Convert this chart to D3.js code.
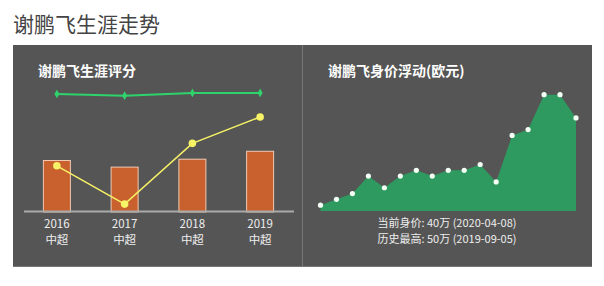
<!DOCTYPE html>
<html>
<head>
<meta charset="utf-8">
<script src="https://cdn.jsdelivr.net/npm/d3@7"></script>
<style>
  body { margin: 0; background: #fff; }
  svg { font-family: "Noto Sans CJK SC", "Noto Sans", sans-serif; }
</style>
</head>
<body>
<div id="chart"></div>
<script>
// career ratings per season
var seasons = ["2016", "2017", "2018", "2019"];
var league = ["中超", "中超", "中超", "中超"];
var barValues = [39, 34, 40, 46];
var greenValues = [89.4, 88.1, 90.2, 90.2];
var yellowValues = [35, 6, 52, 72];

// market value (万 euro)
var marketValues = [2.5, 5, 7.5, 15, 10, 15, 17.5, 15, 17.5, 17.5, 20, 12.5, 32.5, 35, 50, 50, 40];
var infoLines = ["当前身价: 40万 (2020-04-08)", "历史最高: 50万 (2019-09-05)"];

var W = 604, H = 286;
var svg = d3.select("#chart").append("svg")
  .attr("width", W)
  .attr("height", H);

svg.append("text")
  .attr("x", 13).attr("y", 32)
  .attr("font-size", 21)
  .attr("fill", "#444")
  .text("谢鹏飞生涯走势");

// panel background
svg.append("rect")
  .attr("x", 13).attr("y", 45)
  .attr("width", 579).attr("height", 222)
  .attr("fill", "#555555");
svg.append("line")
  .attr("x1", 13).attr("x2", 592)
  .attr("y1", 266.5).attr("y2", 266.5)
  .attr("stroke", "#777").attr("stroke-width", 1);
svg.append("line")
  .attr("x1", 302.5).attr("x2", 302.5)
  .attr("y1", 45).attr("y2", 267)
  .attr("stroke", "#777").attr("stroke-width", 1);

// ---- left chart
svg.append("text")
  .attr("x", 38).attr("y", 76)
  .attr("font-size", 14).attr("font-weight", "bold")
  .attr("fill", "#fff")
  .text("谢鹏飞生涯评分");

var x = d3.scaleBand().domain(seasons).range([23, 294]);
var y = d3.scaleLinear().domain([0, 100]).range([212, 80]);

svg.selectAll(".bar")
  .data(barValues)
  .enter().append("rect")
    .attr("class", "bar")
    .attr("x", function(d, i) { return x(seasons[i]) + x.bandwidth() / 2 - 13.5; })
    .attr("y", function(d) { return y(d); })
    .attr("width", 27)
    .attr("height", function(d) { return y(0) - y(d); })
    .attr("fill", "#c8612d")
    .attr("stroke", "#f2c9b2")
    .attr("stroke-width", 1);

var cx = function(d, i) { return x(seasons[i]) + x.bandwidth() / 2; };

svg.append("line")
  .attr("x1", 24).attr("x2", 294)
  .attr("y1", 211.5).attr("y2", 211.5)
  .attr("stroke", "#aaaaaa").attr("stroke-width", 2);

var line = d3.line().x(cx).y(function(d) { return y(d); });

svg.append("path")
  .attr("d", line(greenValues))
  .attr("fill", "none")
  .attr("stroke", "#2fd36b")
  .attr("stroke-width", 2);
svg.selectAll(".gdot")
  .data(greenValues)
  .enter().append("path")
    .attr("class", "gdot")
    .attr("transform", function(d, i) { return "translate(" + cx(d, i) + "," + y(d) + ")"; })
    .attr("d", d3.symbol().type(d3.symbolDiamond).size(22))
    .attr("fill", "#2fd36b");

svg.append("path")
  .attr("d", line(yellowValues))
  .attr("fill", "none")
  .attr("stroke", "#f7f266")
  .attr("stroke-width", 1.5);
svg.selectAll(".ydot")
  .data(yellowValues)
  .enter().append("circle")
    .attr("class", "ydot")
    .attr("cx", cx)
    .attr("cy", function(d) { return y(d); })
    .attr("r", 3.8)
    .attr("fill", "#f7f266");

var labels = svg.selectAll(".xlab")
  .data(seasons)
  .enter().append("text")
    .attr("class", "xlab")
    .attr("text-anchor", "middle")
    .attr("font-size", 11.5)
    .attr("fill", "#eeeeee");
labels.append("tspan")
  .attr("x", function(d) { return x(d) + x.bandwidth() / 2; })
  .attr("y", 228)
  .text(function(d) { return d; });
labels.append("tspan")
  .attr("x", function(d) { return x(d) + x.bandwidth() / 2; })
  .attr("y", 244)
  .text(function(d, i) { return league[i]; });

// ---- right chart
svg.append("text")
  .attr("x", 328).attr("y", 76)
  .attr("font-size", 14).attr("font-weight", "bold")
  .attr("fill", "#fff")
  .text("谢鹏飞身价浮动(欧元)");

var x2 = d3.scaleLinear().domain([0, marketValues.length - 1]).range([320.5, 576]);
var y2 = d3.scaleLinear().domain([0, 50]).range([211, 94.7]);

svg.append("path")
  .attr("d", d3.area()
    .x(function(d, i) { return x2(i); })
    .y0(y2(0))
    .y1(function(d) { return y2(d); })(marketValues))
  .attr("fill", "#2e9a5f");

svg.selectAll(".mdot")
  .data(marketValues)
  .enter().append("circle")
    .attr("class", "mdot")
    .attr("cx", function(d, i) { return x2(i); })
    .attr("cy", function(d) { return y2(d); })
    .attr("r", 2.6)
    .attr("fill", "#f4fff6");

svg.selectAll(".info")
  .data(infoLines)
  .enter().append("text")
    .attr("class", "info")
    .attr("x", 447)
    .attr("y", function(d, i) { return 227 + i * 16; })
    .attr("text-anchor", "middle")
    .attr("font-size", 11)
    .attr("fill", "#eeeeee")
    .text(function(d) { return d; });
</script>
</body>
</html>
